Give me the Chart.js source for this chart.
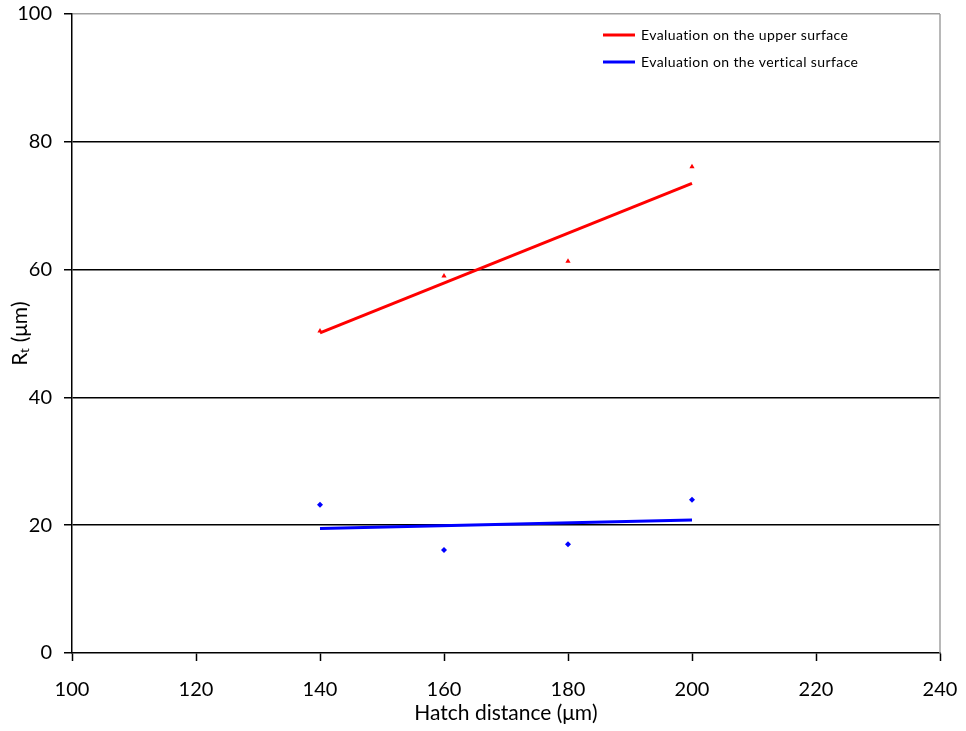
<!DOCTYPE html>
<html>
<head>
<meta charset="utf-8">
<script src="https://cdn.jsdelivr.net/npm/chart.js@4.4.1/dist/chart.umd.min.js"></script>
<style>
  html, body { margin: 0; padding: 0; background: #fff; }
  #wrap { width: 966px; height: 731px; }
</style>
</head>
<body>
<div id="wrap"><canvas id="c" width="966" height="731"></canvas></div>
<script>
// ---- data ----
const hatchDistance = [140, 160, 180, 200];
const upperSurface = [50.4, 59.0, 61.3, 76.1];
const verticalSurface = [23.2, 16.1, 17.0, 24.0];
const trendX = [140, 200];
const upperTrend = [50.1, 73.5];
const verticalTrend = [19.5, 20.8];
const upperLabel = 'Evaluation on the upper surface';
const verticalLabel = 'Evaluation on the vertical surface';
const xTitle = 'Hatch distance (\u03bcm)';
const yTitle = 'R\u209c (\u03bcm)';

const toPts = (xs, ys) => xs.map((x, i) => ({ x: x, y: ys[i] }));

const FONT = 'Lato';

const frame = {
  id: 'frame',
  afterDraw(chart) {
    const { ctx, chartArea: a } = chart;
    ctx.save();
    ctx.strokeStyle = '#a0a0a0';
    ctx.lineWidth = 1.5;
    ctx.beginPath();
    ctx.moveTo(a.right, a.top);
    ctx.lineTo(a.right, a.bottom);
    ctx.stroke();
    ctx.restore();
  }
};

const legendPlugin = {
  id: 'customLegend',
  afterDraw(chart) {
    const { ctx } = chart;
    const items = chart.data.datasets.filter(d => d.inLegend);
    ctx.save();
    ctx.font = '14px ' + FONT;
    try { ctx.letterSpacing = '0.4px'; } catch (e) {}
    ctx.textBaseline = 'middle';
    ctx.fillStyle = '#000';
    items.forEach((d, i) => {
      const y = 35 + i * 27;
      ctx.strokeStyle = d.borderColor;
      ctx.lineWidth = 3;
      ctx.beginPath();
      ctx.moveTo(603, y);
      ctx.lineTo(635, y);
      ctx.stroke();
      ctx.fillText(d.label, 641, y);
    });
    ctx.restore();
  }
};

new Chart(document.getElementById('c'), {
  type: 'scatter',
  data: {
    datasets: [
      {
        label: upperLabel,
        type: 'line',
        data: toPts(trendX, upperTrend),
        borderColor: '#ff0000',
        borderWidth: 3,
        pointRadius: 0,
        fill: false,
        inLegend: true
      },
      {
        label: verticalLabel,
        type: 'line',
        data: toPts(trendX, verticalTrend),
        borderColor: '#0000ff',
        borderWidth: 3,
        pointRadius: 0,
        fill: false,
        inLegend: true
      },
      {
        label: 'upper points',
        data: toPts(hatchDistance, upperSurface),
        pointStyle: 'triangle',
        pointRadius: 3,
        backgroundColor: '#ff0000',
        borderColor: '#ff0000',
        borderWidth: 0
      },
      {
        label: 'vertical points',
        data: toPts(hatchDistance, verticalSurface),
        pointStyle: 'rectRot',
        pointRadius: 3,
        backgroundColor: '#0000ff',
        borderColor: '#0000ff',
        borderWidth: 0
      }
    ]
  },
  options: {
    responsive: false,
    animation: false,
    layout: { padding: { left: 0, top: 14, right: 26, bottom: 0 } },
    plugins: { legend: { display: false }, tooltip: { enabled: false } },
    scales: {
      x: {
        type: 'linear',
        min: 100, max: 240,
        afterFit(s) { s.height = 78; s.paddingLeft = 0; s.paddingRight = 0; },
        ticks: { stepSize: 20, color: '#000', font: { family: FONT, size: 20 }, padding: 17, maxRotation: 0 },
        grid: { drawOnChartArea: false, drawTicks: true, tickLength: 8, tickColor: '#000', tickWidth: 1.5 },
        border: { color: '#000', width: 1.5 },
        title: { display: true, text: xTitle, color: '#000', font: { family: FONT, size: 21 }, padding: 5 }
      },
      y: {
        min: 0, max: 100,
        afterFit(s) { s.width = 72; s.paddingTop = 0; s.paddingBottom = 0; },
        ticks: { stepSize: 20, color: '#000', font: { family: FONT, size: 20 }, padding: 12 },
        grid: {
          color: (c) => (c.tick && c.tick.value === 100 ? '#a0a0a0' : (c.tick && c.tick.value === 0 ? 'rgba(0,0,0,0)' : '#000')),
          lineWidth: 1.5,
          drawTicks: true, tickLength: 8, tickColor: '#000', tickWidth: 1.5
        },
        border: { color: '#000', width: 1.5 },
        title: { display: true, text: yTitle, color: '#000', font: { family: FONT, size: 21 }, padding: 8 }
      }
    }
  },
  plugins: [frame, legendPlugin]
});
</script>
</body>
</html>
